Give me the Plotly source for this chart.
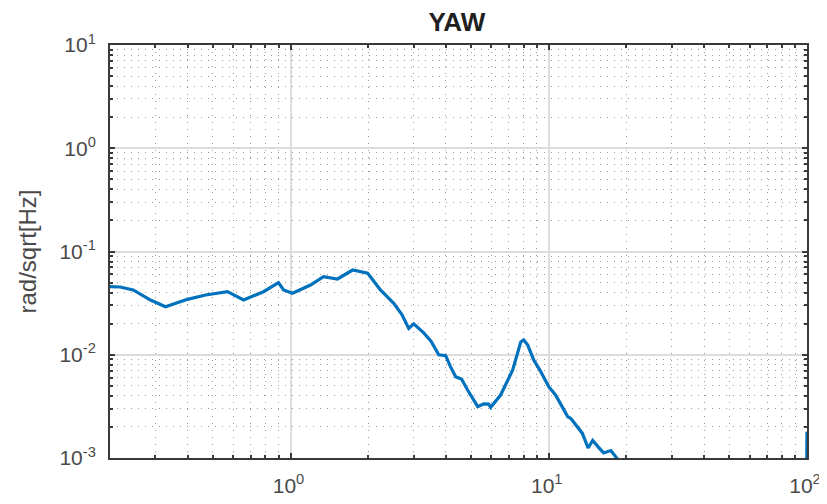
import plotly.graph_objects as go
import numpy as np

title_text = "YAW"
y_label = "rad/sqrt[Hz]"

x_tickvals = [1, 10, 100]
x_ticktext = ["10<sup>0</sup>", "10<sup>1</sup>", "10<sup>2</sup>"]
y_tickvals = [1e-3, 1e-2, 1e-1, 1, 10]
y_ticktext = ["10<sup>-3</sup>", "10<sup>-2</sup>", "10<sup>-1</sup>", "10<sup>0</sup>", "10<sup>1</sup>"]
x_decades = [0.1, 1, 10]
y_decades = [1e-3, 1e-2, 1e-1, 1]
minor_digits = [2, 3, 4, 5, 6, 7, 8, 9]

freq = [0.2, 0.219, 0.246, 0.287, 0.328, 0.36, 0.399, 0.469, 0.57, 0.658, 0.786, 0.898, 0.94,
        1.018, 1.195, 1.342, 1.52, 1.74, 1.99, 2.23, 2.51, 2.7, 2.87, 3.0, 3.28, 3.5, 3.75, 3.99,
        4.15, 4.36, 4.6, 4.85, 5.31, 5.6, 5.85, 5.96, 6.2, 6.51, 7.25, 7.79, 8.0, 8.29, 8.75, 9.3, 10.0,
        10.6, 11.0, 11.85, 12.2, 12.7, 13.5, 14.2, 14.8, 15.5, 16.3, 17.4, 18.5, 20.0, 40.0, 70.0, 99.5, 100.0]
asd = [0.0456, 0.0453, 0.0424, 0.0339, 0.0292, 0.0315, 0.0344, 0.0379, 0.0408, 0.0339, 0.0408, 0.0499, 0.0424,
       0.0394, 0.0474, 0.057, 0.0542, 0.0662, 0.0615, 0.0424, 0.0315, 0.0245, 0.018, 0.0199, 0.0163, 0.0135, 0.0100, 0.0098,
       0.0078, 0.00613, 0.0058, 0.00456, 0.00314, 0.00335, 0.00333, 0.0031, 0.0035, 0.00407, 0.00711, 0.0133, 0.0139, 0.0124, 0.0089, 0.0069, 0.00491,
       0.0041, 0.0035, 0.00251, 0.0024, 0.00209, 0.00173, 0.00125, 0.00148, 0.00129, 0.00112, 0.00118, 0.00097, 0.0008, 0.0006, 0.0005, 0.0005, 0.0018]

x_minor = [d * m for d in x_decades for m in minor_digits]
y_minor = [d * m for d in y_decades for m in minor_digits]

fig = go.Figure()
fig.add_trace(go.Scatter(x=freq, y=asd, mode="lines",
                         line=dict(color="#0072BD", width=3.2), showlegend=False))

font_fam = "Liberation Sans, Arial, sans-serif"


def axis_style(minor_vals):
    return dict(
        type="log", showline=True, linecolor="#3a3a3a", linewidth=2, mirror="ticks",
        ticks="inside", ticklen=5, tickcolor="#3a3a3a", tickwidth=1.5,
        showgrid=True, gridcolor="#dcdcdc", gridwidth=1.5,
        tickfont=dict(family=font_fam, size=21, color="#4a4a4a"),
        ticklabelstandoff=8, automargin=False,
        minor=dict(tickvals=minor_vals, showgrid=True, gridcolor="#9a9a9a", griddash="1px,6px",
                   gridwidth=1, ticks="inside", ticklen=3, tickcolor="#3a3a3a"),
        zeroline=False,
    )


fig.update_xaxes(range=[np.log10(0.2), 2], tickvals=x_tickvals, ticktext=x_ticktext,
                 ticklabelshift=-2, **axis_style(x_minor))
fig.update_yaxes(range=[-3, 1], tickvals=y_tickvals, ticktext=y_ticktext,
                 title=dict(text=y_label, standoff=16,
                            font=dict(family=font_fam, size=24, color="#4a4a4a")),
                 **axis_style(y_minor))

# the page body has an 8px default margin; size the figure so the plot lands where the reference has it
fig.update_layout(
    width=819, height=496,
    margin=dict(l=102, r=20, t=37, b=46),
    paper_bgcolor="white", plot_bgcolor="white",
    title=dict(text="<b>" + title_text + "</b>", x=0.548, xanchor="center", y=0.972, yanchor="middle",
               font=dict(family=font_fam, size=26, color="#202020")),
)

fig.write_html("out.html")
